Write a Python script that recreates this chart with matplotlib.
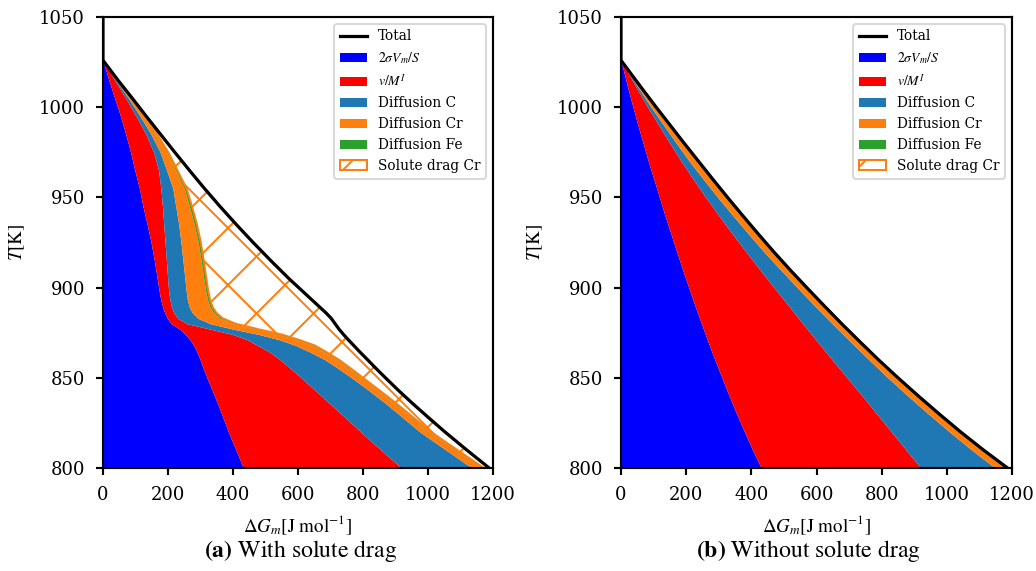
import numpy as np
import matplotlib.pyplot as plt

# render at a high dpi so that the hatch spacing comes out wide like the original
DPI = 342
plt.rcParams['font.family'] = ['DejaVu Serif']
plt.rcParams['mathtext.fontset'] = 'stix'
plt.rcParams['hatch.linewidth'] = 0.42
plt.rcParams['axes.linewidth'] = 0.45
plt.rcParams['xtick.major.width'] = 0.45
plt.rcParams['ytick.major.width'] = 0.45
plt.rcParams['xtick.major.size'] = 1.4
plt.rcParams['ytick.major.size'] = 1.4
plt.rcParams['xtick.major.pad'] = 2.4
plt.rcParams['ytick.major.pad'] = 2.4
plt.rcParams['xtick.labelsize'] = 3.8
plt.rcParams['ytick.labelsize'] = 3.8

# (a) with solute drag: contributions to dG_m [J/mol] at each temperature
T_a = [1050, 1026, 1015, 1005, 995, 985, 975, 965, 955, 945, 935, 925, 915, 905, 898, 893, 889,
       886, 883, 880, 877, 874, 871, 868, 864, 860, 855, 850, 843, 836, 828, 820, 810, 800]
surf_a = [0, 0, 18, 36, 54, 70, 85, 98, 112, 123, 136, 148, 158, 167, 173, 178, 184,
          190, 198, 210, 236, 254, 268, 279, 290, 299, 309, 320, 336, 352, 369, 386, 409, 432]
mob_a = [0, 0, 18, 34, 48, 62, 71, 73, 66, 60, 51, 43, 37, 32, 29, 28, 27,
         28, 32, 48, 94, 146, 177, 196, 225, 246, 269, 290, 317, 344, 376, 407, 446, 486]
difC_a = [0, 0, 4, 8, 12, 16, 20, 25, 37, 41, 46, 49, 51, 53, 54, 54, 55,
          57, 62, 72, 70, 80, 100, 117, 125, 138, 147, 155, 165, 172, 177, 182, 200, 217]
difCr_a = [0, 0, 3, 6, 10, 15, 20, 27, 35, 42, 48, 53, 56, 58, 60, 62, 64,
           66, 68, 70, 68, 62, 52, 52, 44, 37, 33, 30, 28, 28, 28, 29, 30, 32]
difFe_a = [0, 0, 1, 2, 3, 4, 5, 6, 7, 8, 8, 8, 8, 8, 8, 8, 8,
           8, 8, 8, 8, 8, 7, 7, 6, 6, 6, 5, 5, 5, 5, 5, 5, 5]
drag_a = [0, 0, 2, 4, 6, 10, 20, 37, 55, 86, 121, 161, 206, 254, 290, 314, 330,
          337, 334, 306, 250, 190, 151, 120, 102, 88, 77, 69, 58, 50, 46, 43, 29, 16]

# (b) without solute drag
T_b = [1050, 1026, 1010, 1000, 990, 980, 970, 960, 950, 940, 930, 920, 910, 900,
       890, 880, 870, 860, 850, 840, 830, 820, 810, 800]
surf_b = [0, 0, 22, 37, 52, 68, 84, 101, 118, 135, 153, 171, 189, 208,
          227, 247, 267, 288, 310, 332, 355, 379, 404, 430]
mob_b = [0, 0, 28, 45, 64, 82, 101, 121, 142, 165, 188, 212, 237, 262,
         287, 311, 336, 360, 384, 408, 430, 451, 471, 490]
difC_b = [0, 0, 6, 10, 15, 20, 25, 31, 37, 43, 49, 55, 63, 71,
          80, 90, 101, 113, 125, 140, 158, 178, 201, 228]
difCr_b = [0, 0, 8, 13, 17, 21, 24, 25, 26, 26, 26, 26, 25, 25,
           25, 25, 25, 25, 26, 27, 28, 29, 30, 32]
difFe_b = [0, 0, 2, 3, 3, 3, 4, 4, 4, 4, 4, 4, 4, 4,
           4, 4, 4, 4, 5, 5, 5, 5, 6, 6]
drag_b = [0] * len(T_b)

labels = [r'$2\sigma V_m/S$', r'$v/M^I$', 'Diffusion C', 'Diffusion Cr', 'Diffusion Fe']
colors = ['#0000ff', '#ff0000', '#1f77b4', '#ff7f0e', '#2ca02c']
x_ticks = [0, 200, 400, 600, 800, 1000, 1200]
y_ticks = [800, 850, 900, 950, 1000, 1050]


def plot_panel(ax, T, parts):
    T = np.array(T)
    edges = np.vstack([np.zeros(len(T))] + [np.cumsum(parts, axis=0)])
    ax.plot(edges[-1], T, color='black', lw=0.68, label='Total', zorder=5)
    for i in range(5):
        ax.fill_betweenx(T, edges[i], edges[i + 1], color=colors[i], lw=0, label=labels[i])
    ax.fill_betweenx(T, edges[5], edges[6], facecolor='white', edgecolor='#ff7f0e',
                     hatch='xx', lw=0.42, label='Solute drag Cr')
    ax.set_xlim(0, 1200)
    ax.set_ylim(800, 1050)
    ax.set_xticks(x_ticks)
    ax.set_yticks(y_ticks)
    ax.set_xlabel(r'$\Delta G_m [\mathrm{J\ mol^{-1}}]$', fontsize=4.0, labelpad=2.0)
    ax.set_ylabel(r'$T[\mathrm{K}]$', fontsize=4.0, labelpad=2.5)
    leg = ax.legend(loc='upper right', fontsize=2.9, borderaxespad=0.5)
    leg.get_frame().set_linewidth(0.4)


fig = plt.figure(figsize=(1036 / DPI, 571 / DPI), dpi=DPI)
ax1 = fig.add_axes([0.0994, 0.1804, 0.3765, 0.7898])
ax2 = fig.add_axes([0.5994, 0.1804, 0.3775, 0.7898])

plot_panel(ax1, T_a, [surf_a, mob_a, difC_a, difCr_a, difFe_a, drag_a])
plot_panel(ax2, T_b, [surf_b, mob_b, difC_b, difCr_b, difFe_b, drag_b])

fig.text(0.29, 0.035, r'$\mathbf{(a)}$ With solute drag', ha='center', va='center',
         fontsize=5.0, family='STIXGeneral')
fig.text(0.78, 0.035, r'$\mathbf{(b)}$ Without solute drag', ha='center', va='center',
         fontsize=5.0, family='STIXGeneral')

fig.savefig('out.png', dpi=DPI)
